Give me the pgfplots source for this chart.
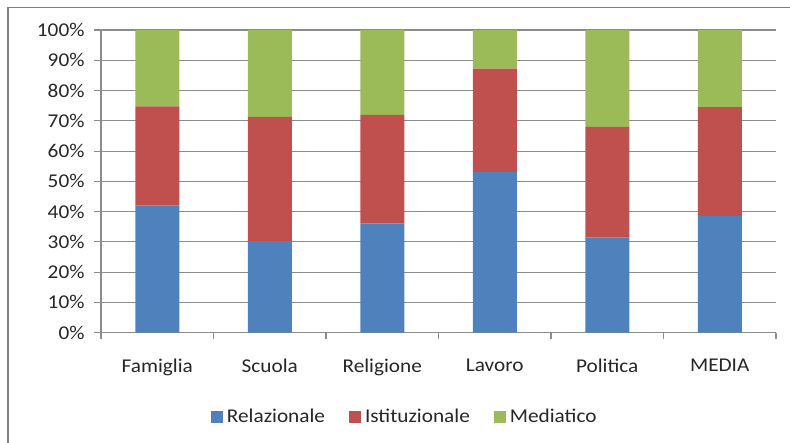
\documentclass[border=0pt]{standalone}
\usepackage{pgfplots}
\pgfplotsset{compat=1.18}
\usepackage{fontspec}
\setmainfont{Carlito}[FakeStretch=1.09]
\definecolor{cblue}{HTML}{4F81BD}
\definecolor{cred}{HTML}{C0504D}
\definecolor{cgreen}{HTML}{9BBB59}
\definecolor{cgrid}{HTML}{8C8C8C}
\definecolor{cframe}{HTML}{7F7F7F}
\begin{document}
\begin{tikzpicture}[x=1pt,y=1pt]
\useasboundingbox (0,0) rectangle (790,442);
\clip (0,0) rectangle (790,442);
\draw[cframe,line width=1.5pt] (8,-20) -- (8,434.5) -- (820,434.5);
\begin{axis}[
  at={(101pt,109.3pt)}, anchor=south west,
  scale only axis, width=675pt, height=302.7pt,
  xmin=-0.5, xmax=5.5, ymin=0, ymax=100,
  axis x line=bottom, axis y line=left,
  axis line style={cgrid, line width=1.1pt, -},
  ybar stacked, bar width=44pt,
  xtick={0,1,2,3,4,5},
  xticklabels={Famiglia,Scuola,Religione,Lavoro,Politica,MEDIA},
  minor xtick={-0.5,0.5,1.5,2.5,3.5,4.5,5.5},
  major x tick style={draw=none},
  minor tick length=6pt,
  minor x tick style={cgrid, line width=1.1pt},
  ytick={0,10,...,100},
  yticklabel={\pgfmathparse{int(\tick)}\pgfmathresult\%},
  major tick length=7pt,
  y tick style={cgrid, line width=1.1pt},
  tick align=outside,
  ymajorgrids, grid style={cgrid, line width=1.1pt},
  tick label style={font=\fontsize{19.5}{22}\selectfont, text=black!85},
  xticklabel style={yshift=-16pt},
  yticklabel style={xshift=-6pt},
  legend columns=3,
  legend style={at={(0.45,-0.278)}, anchor=center, draw=none, fill=none,
    font=\fontsize{19.5}{22}\selectfont, text=black!85,
    /tikz/every odd column/.append style={column sep=2pt},
    /tikz/every even column/.append style={column sep=22pt}},
  legend image code/.code={\fill[#1] (0pt,-6pt) rectangle (12pt,6pt);},
  clip=false,
]
\addplot[fill=cblue, draw=none] coordinates {(0,42) (1,30.1) (2,36) (3,53.1) (4,31.4) (5,38.5)};
\addplot[fill=cred, draw=none] coordinates {(0,32.8) (1,41.2) (2,36) (3,34.1) (4,36.6) (5,36)};
\addplot[fill=cgreen, draw=none] coordinates {(0,25.2) (1,28.7) (2,28) (3,12.8) (4,32) (5,25.5)};
\legend{Relazionale,Istituzionale,Mediatico}
\end{axis}
\end{tikzpicture}
\end{document}
